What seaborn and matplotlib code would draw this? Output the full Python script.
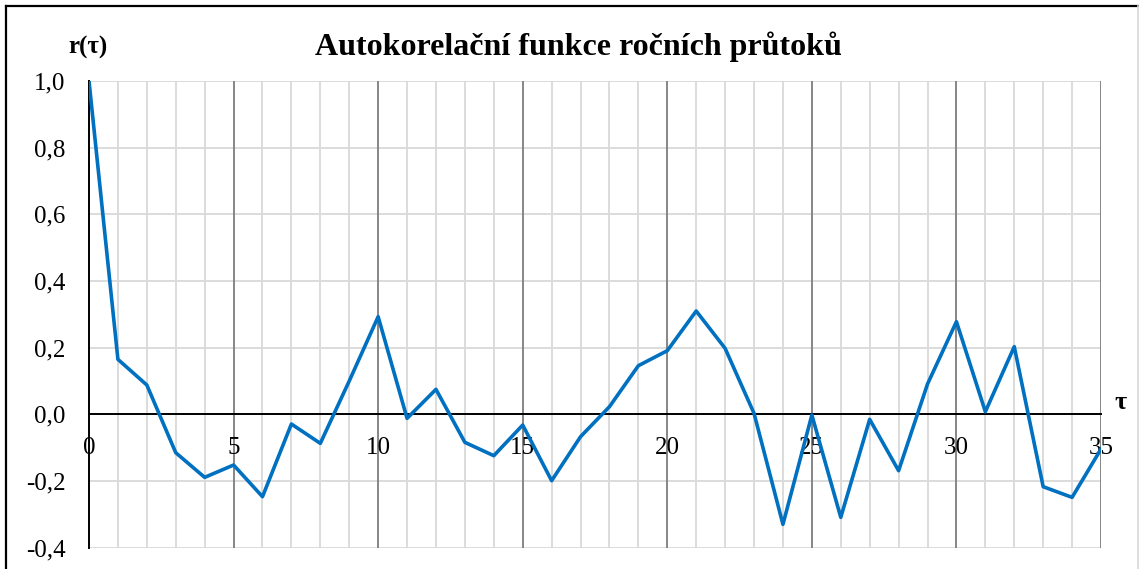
import matplotlib
matplotlib.use("Agg")
import matplotlib.pyplot as plt
import seaborn as sns
import pandas as pd
from matplotlib.lines import Line2D

lags = list(range(0, 36))
acf = [1.0, 0.165, 0.088, -0.115, -0.189, -0.152, -0.247, -0.029, -0.087, 0.10,
       0.293, -0.012, 0.075, -0.084, -0.124, -0.032, -0.199, -0.067, 0.023, 0.146,
       0.191, 0.310, 0.198, 0.003, -0.330, -0.002, -0.309, -0.015, -0.169, 0.091,
       0.278, 0.008, 0.203, -0.217, -0.249, -0.104]
x_ticks = [0, 5, 10, 15, 20, 25, 30, 35]
y_ticks = [-0.4, -0.2, 0.0, 0.2, 0.4, 0.6, 0.8, 1.0]
y_labels = ["-0,4", "-0,2", "0,0", "0,2", "0,4", "0,6", "0,8", "1,0"]
title = "Autokorelační funkce ročních průtoků"

df = pd.DataFrame({"tau": lags, "r": acf})

plt.rcParams["font.family"] = ["Liberation Serif", "DejaVu Serif"]

W, H = 1139, 569
fig = plt.figure(figsize=(W / 100, H / 100), dpi=100)
ax = fig.add_axes([89 / W, 1 - 547.7 / H, (1101 - 89) / W, (547.7 - 81) / H])

# grid
for xv in range(0, 36):
    if xv % 5 == 0:
        continue
    ax.axvline(xv, color="#d9d9d9", lw=1.3, zorder=0)
for yv in y_ticks:
    ax.axhline(yv, color="#d9d9d9", lw=1.3, zorder=0)
for xv in x_ticks[1:]:
    ax.axvline(xv, color="#868686", lw=1.4, zorder=1)

sns.lineplot(data=df, x="tau", y="r", ax=ax, color="#0070c0", lw=2.6, zorder=5)

ax.set_xlim(0, 35)
ax.set_ylim(-0.4, 1.0)
ax.set_xlabel("")
ax.set_ylabel("")

for s in ["top", "right"]:
    ax.spines[s].set_visible(False)
ax.spines["left"].set_color("black")
ax.spines["left"].set_linewidth(1.4)
ax.spines["bottom"].set_position(("data", 0))
ax.spines["bottom"].set_color("black")
ax.spines["bottom"].set_linewidth(1.4)
ax.spines["bottom"].set_zorder(3)
ax.spines["left"].set_zorder(3)

ax.set_xticks(x_ticks)
ax.set_xticklabels([str(v) for v in x_ticks])
ax.set_yticks(y_ticks)
ax.set_yticklabels(y_labels)
ax.tick_params(axis="x", length=0, pad=16, labelsize=18)
ax.tick_params(axis="y", length=0, pad=17, labelsize=18)
ax.set_facecolor("none")

fig.text(578 / W, 1 - 47 / H, title, ha="center", va="center",
         fontsize=23, fontweight="bold")
fig.text(68 / W, 1 - 47 / H, "r(τ)", ha="left", va="center",
         fontsize=18, fontweight="bold")
ax.text(1.019, 0.0, "τ", transform=ax.get_yaxis_transform(), ha="center",
        va="bottom", fontsize=19, fontweight="bold")

# figure border
fig.add_artist(Line2D([6 / W, 1138 / W], [1 - 5.5 / H, 1 - 5.5 / H], color="black", lw=1.6,
                      transform=fig.transFigure))
fig.add_artist(Line2D([6 / W, 6 / W], [1 - 5.5 / H, 0], color="black", lw=1.6,
                      transform=fig.transFigure))
fig.add_artist(Line2D([1138 / W, 1138 / W], [1 - 5.5 / H, 0], color="#d9d9d9", lw=1.2,
                      transform=fig.transFigure))

fig.savefig("out.png", dpi=100)
